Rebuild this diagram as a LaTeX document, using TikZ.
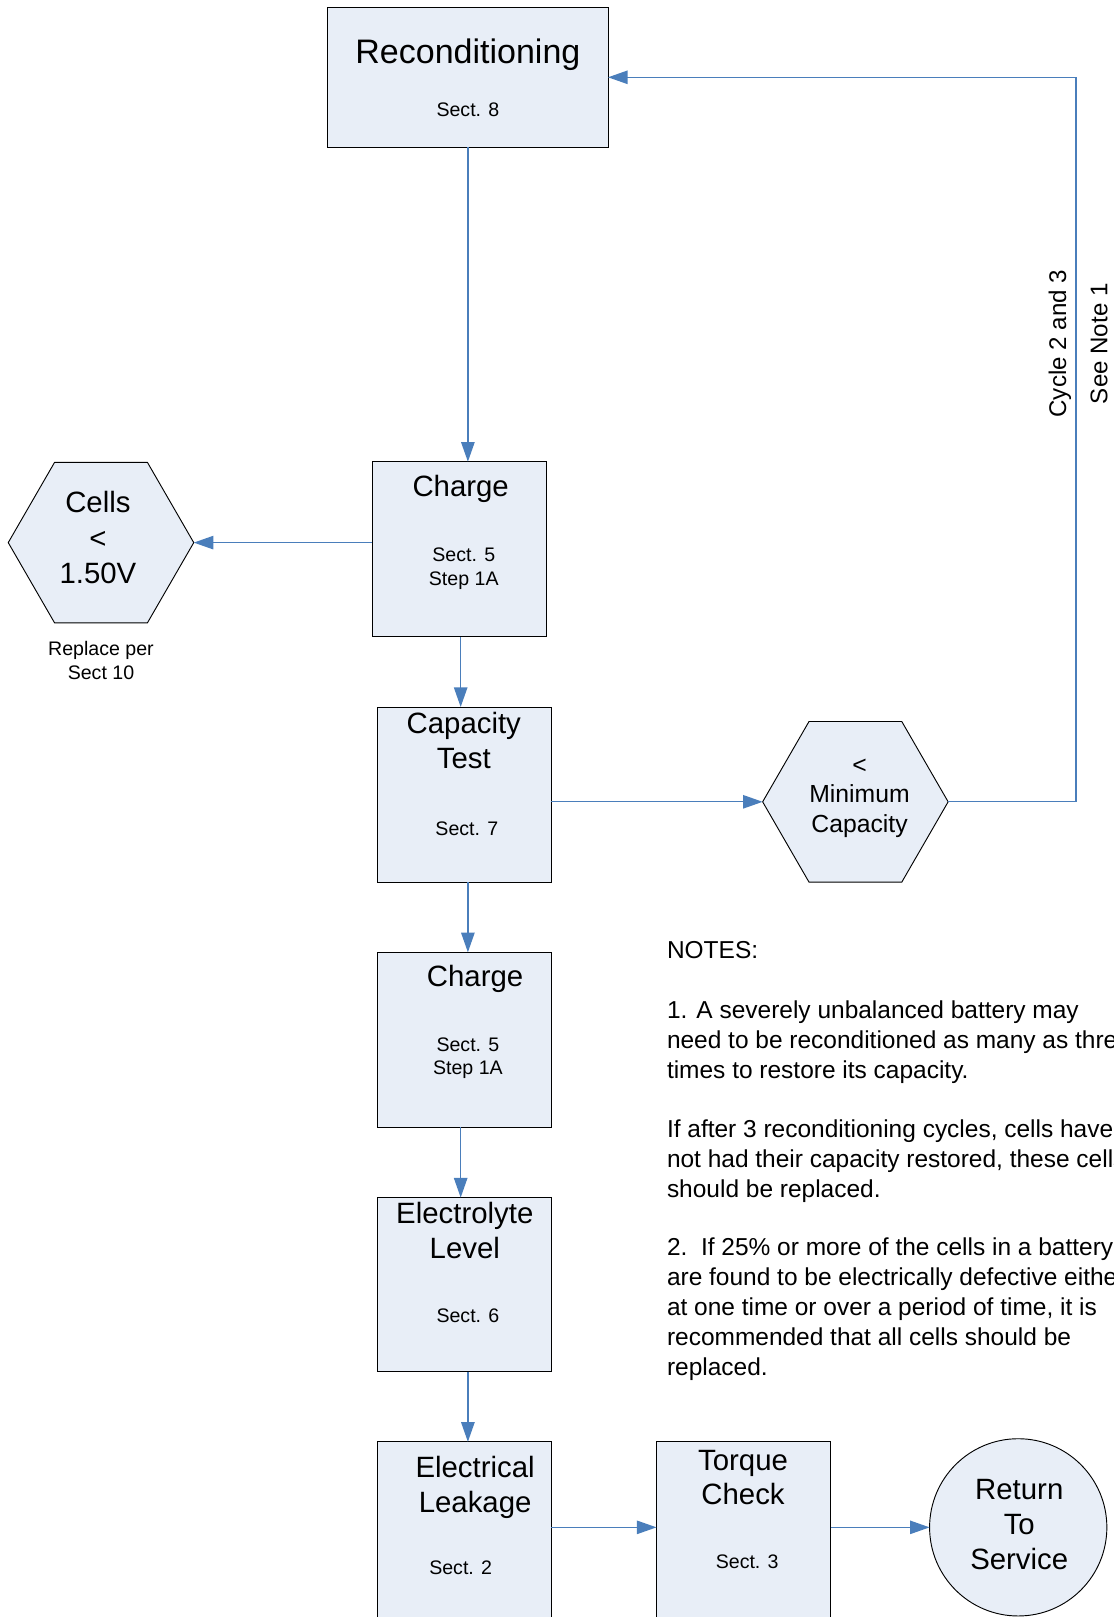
\documentclass[tikz,border=0pt]{standalone}
\usepackage{fontspec}
\setmainfont{Liberation Sans}
\usetikzlibrary{arrows.meta,shapes.geometric}
\definecolor{boxfill}{RGB}{232,238,247}
\definecolor{linkblue}{RGB}{74,126,187}
\tikzset{
  stepbox/.style={draw=black, fill=boxfill, line width=0.9pt, inner sep=0pt, outer sep=0pt},
  hexa/.style={regular polygon, regular polygon sides=6, minimum size=180pt, draw=black, fill=boxfill, line width=0.9pt, inner sep=0pt, outer sep=0pt},
  endcirc/.style={circle, minimum size=172pt, draw=black, fill=boxfill, line width=0.9pt, inner sep=0pt, outer sep=0pt},
  conn/.style={draw=linkblue, line width=1.3pt, -{Triangle[length=19pt,width=13pt]}},
  hugetext/.style={font=\fontsize{33}{38}\selectfont, inner sep=0pt, anchor=base},
  bigtext/.style={font=\fontsize{28.5}{34}\selectfont, inner sep=0pt, anchor=base},
  midtext/.style={font=\fontsize{24}{28}\selectfont, inner sep=0pt, anchor=base},
  smalltext/.style={font=\fontsize{19}{23}\selectfont, inner sep=0pt, anchor=base},
  sidetext/.style={font=\fontsize{23.4}{28}\selectfont, inner sep=0pt, anchor=base, rotate=90},
  notetext/.style={font=\fontsize{23.75}{29}\selectfont, inner sep=0pt, anchor=base west},
}
\begin{document}
\begin{tikzpicture}[x=1pt,y=-1pt]
\useasboundingbox (0,0) rectangle (1080,1569);
% shapes
\node[stepbox, minimum width=272pt, minimum height=136pt] (recond) at (454,75) {};
\node[stepbox, minimum width=169pt, minimum height=170pt] (charge1) at (445.5,533) {};
\node[hexa] (cells) at (98,526.5) {};
\node[stepbox, minimum width=169pt, minimum height=170pt] (capacity) at (450.5,771) {};
\node[hexa] (minhex) at (830,778) {};
\node[stepbox, minimum width=169pt, minimum height=170pt] (charge2) at (450.5,1009) {};
\node[stepbox, minimum width=169pt, minimum height=169pt] (electrolyte) at (450.5,1246.5) {};
\node[stepbox, minimum width=169pt, minimum height=176pt] (elec) at (450.5,1487) {};
\node[stepbox, minimum width=169pt, minimum height=176pt] (torque) at (721.5,1487) {};
\node[endcirc] (ret) at (988,1482) {};
\coordinate (loop) at (1044,75);
% connectors
\draw[conn] (recond.south) -- (recond.south |- charge1.north);
\draw[conn] (cells.east -| charge1.west) -- (cells.east);
\draw[conn] ([xshift=1.5pt]charge1.south) -- ([xshift=1.5pt]charge1.south |- capacity.north);
\draw[conn] (minhex.west -| capacity.east) -- (minhex.west);
\draw[conn] (minhex.east) -| (loop) -- (recond.east);
\draw[conn] ([xshift=3.5pt]capacity.south) -- ([xshift=3.5pt]capacity.south |- charge2.north);
\draw[conn] ([xshift=-3.5pt]charge2.south) -- ([xshift=-3.5pt]charge2.south |- electrolyte.north);
\draw[conn] ([xshift=3.5pt]electrolyte.south) -- ([xshift=3.5pt]electrolyte.south |- elec.north);
\draw[conn] (elec.east |- ret.center) -- (torque.west |- ret.center);
\draw[conn] (torque.east |- ret.center) -- (ret.west);
% texts
\node[hugetext] (recondA) at (454,62) {Reconditioning};
\node[smalltext] (recondB) at (454,113) {Sect. 8};
\node[bigtext] (charge1A) at (447,482) {Charge};
\node[smalltext] (charge1B) at (450,545) {Sect. 5};
\node[smalltext] (charge1C) at (450,568) {Step 1A};
\node[bigtext] (cellsA) at (95,497) {Cells};
\node[bigtext] (cellsB) at (95,532) {<};
\node[bigtext] (cellsC) at (95,566) {1.50V};
\node[smalltext] (replA) at (98,636) {Replace per};
\node[smalltext] (replB) at (98,659) {Sect 10};
\node[bigtext] (capA) at (450,712) {Capacity};
\node[bigtext] (capB) at (450,746) {Test};
\node[smalltext] (capC) at (453,811) {Sect. 7};
\node[midtext] (minA) at (834,750.6) {<};
\node[midtext] (minB) at (834,778.6) {Minimum};
\node[midtext] (minC) at (834,807.6) {Capacity};
\node[bigtext] (charge2A) at (461,957) {Charge};
\node[smalltext] (charge2B) at (454,1020) {Sect. 5};
\node[smalltext] (charge2C) at (454,1043) {Step 1A};
\node[bigtext] (elytA) at (451,1187) {Electrolyte};
\node[bigtext] (elytB) at (451,1221) {Level};
\node[smalltext] (elytC) at (454,1283) {Sect. 6};
\node[bigtext] (elecA) at (461,1434) {Electrical};
\node[bigtext] (elecB) at (461,1468) {Leakage};
\node[smalltext] (elecC) at (447,1528) {Sect. 2};
\node[bigtext] (torqA) at (721,1427) {Torque};
\node[bigtext] (torqB) at (721,1460) {Check};
\node[smalltext] (torqC) at (725,1522) {Sect. 3};
\node[bigtext] (retA) at (989,1455) {Return};
\node[bigtext] (retB) at (989,1489) {To};
\node[bigtext] (retC) at (989,1523) {Service};
\node[sidetext] (cycle) at (1034.4,333.5) {Cycle 2 and 3};
\node[sidetext] (seenote) at (1074.4,333.5) {See Note 1};
% notes
\node[notetext] (n0) at (647,930.5) {NOTES:};
\node[notetext] (n1) at (647,988.5) {1. A severely unbalanced battery may};
\node[notetext] (n2) at (647,1017.5) {need to be reconditioned as many as three};
\node[notetext] (n3) at (647,1046.5) {times to restore its capacity.};
\node[notetext] (n4) at (647,1103.5) {If after 3 reconditioning cycles, cells have};
\node[notetext] (n5) at (647,1132.5) {not had their capacity restored, these cells};
\node[notetext] (n6) at (647,1161.5) {should be replaced.};
\node[notetext] (n7) at (647,1218.5) {2.\ \ If 25\% or more of the cells in a battery};
\node[notetext] (n8) at (647,1247.5) {are found to be electrically defective either};
\node[notetext] (n9) at (647,1276.5) {at one time or over a period of time, it is};
\node[notetext] (n10) at (647,1305.5) {recommended that all cells should be};
\node[notetext] (n11) at (647,1334.5) {replaced.};
\end{tikzpicture}
\end{document}
